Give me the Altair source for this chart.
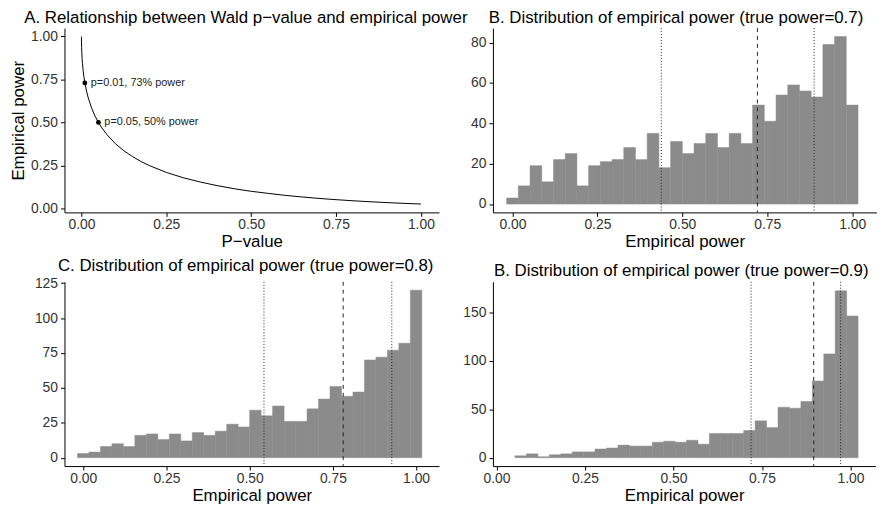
import altair as alt
import pandas as pd

FONT = "Liberation Sans"

# ---------------- Panel A: p-value vs empirical power ----------------
p_values = [0.0, 0.00001, 0.0001, 0.0005, 0.001, 0.002, 0.003, 0.005, 0.007, 0.01,
            0.015, 0.02, 0.03, 0.04, 0.05, 0.06, 0.075, 0.1, 0.125, 0.15,
            0.175, 0.2, 0.25, 0.3, 0.35, 0.4, 0.45, 0.5, 0.55, 0.6,
            0.65, 0.7, 0.75, 0.8, 0.85, 0.9, 0.95, 1.0]
emp_power = [1.0, 0.993, 0.973, 0.936, 0.908, 0.871, 0.843, 0.801, 0.769, 0.731,
             0.682, 0.643, 0.583, 0.537, 0.5, 0.468, 0.429, 0.376, 0.335, 0.302,
             0.273, 0.249, 0.209, 0.178, 0.153, 0.132, 0.114, 0.099, 0.087, 0.0755,
             0.066, 0.0576, 0.0504, 0.0439, 0.0383, 0.0333, 0.0289, 0.025]
ann_p = [0.01, 0.05]
ann_power = [0.73, 0.50]
ann_text = ["p=0.01, 73% power", "p=0.05, 50% power"]

# ---------------- Histograms (30 bins each) ----------------
b_counts = [3, 9, 19, 11, 22, 25, 9, 19, 21, 22, 28, 22, 35, 18, 31,
            25, 30, 35, 28, 35, 30, 49, 41, 54, 59, 56, 53, 79, 83, 49]
c_counts = [3, 4, 8, 10, 8, 16, 17, 13, 17, 12, 18, 16, 19, 24, 22,
            34, 30, 37, 26, 26, 35, 42, 51, 44, 47, 70, 72, 77, 82, 120]
d_counts = [2, 4, 1, 3, 4, 6, 6, 9, 10, 13, 12, 12, 16, 17, 16,
            18, 14, 25, 25, 25, 28, 38, 31, 52, 51, 58, 79, 107, 172, 146]
b_first_edge, b_bin_width = -0.0172, 0.03448
c_first_edge, c_bin_width = -0.0172, 0.03448
d_first_edge, d_bin_width = 0.0523, 0.0323

b_lines = [0.438, 0.721, 0.888]
c_lines = [0.543, 0.781, 0.927]
d_lines = [0.719, 0.896, 0.972]
line_kinds = ["dotted", "dashed", "dotted"]

x_ticks = [0.0, 0.25, 0.5, 0.75, 1.0]

titles = [
    "A. Relationship between Wald p\u2212value and empirical power",
    "B. Distribution of empirical power (true power=0.7)",
    "C. Distribution of empirical power (true power=0.8)",
    "B. Distribution of empirical power (true power=0.9)",
]

H = 186


def make_title(text, dx):
    return alt.TitleParams(text=text, anchor="start", frame="group", font=FONT,
                           fontSize=17, fontWeight="normal", color="black",
                           offset=-12, baseline="alphabetic", dx=dx)


# Panel A
df_a = pd.DataFrame({"p": p_values, "power": emp_power})
df_ann = pd.DataFrame({"p": ann_p, "power": ann_power, "label": ann_text})
xs_a = alt.Scale(domain=[-0.05, 1.0534], nice=False, zero=False)
ys_a = alt.Scale(domain=[-0.0238, 1.0488], nice=False, zero=False)

line_a = alt.Chart(df_a).mark_line(color="black", strokeWidth=1).encode(
    x=alt.X("p:Q", scale=xs_a,
            axis=alt.Axis(values=x_ticks, format=".2f", title="P\u2212value")),
    y=alt.Y("power:Q", scale=ys_a,
            axis=alt.Axis(values=[0, 0.25, 0.5, 0.75, 1.0], format=".2f",
                          title="Empirical power")),
)
pts_a = alt.Chart(df_ann).mark_circle(color="black", size=24, opacity=1).encode(
    x=alt.X("p:Q", scale=xs_a), y=alt.Y("power:Q", scale=ys_a))
txt_a = alt.Chart(df_ann).mark_text(align="left", baseline="middle", dx=6,
                                    font=FONT, fontSize=11, color="#222222").encode(
    x=alt.X("p:Q", scale=xs_a), y=alt.Y("power:Q", scale=ys_a), text="label:N")

panel_a = alt.layer(line_a, pts_a, txt_a).properties(
    width=378, height=H, title=make_title(titles[0], -40.6))


def hist_panel(counts, first, bw, lines, title, xdom, ydom, yticks, w, title_dx):
    df = pd.DataFrame({
        "lo": [first + i * bw for i in range(len(counts))],
        "hi": [first + (i + 1) * bw for i in range(len(counts))],
        "n": counts,
    })
    dl = pd.DataFrame({"pos": lines, "kind": line_kinds})
    xs = alt.Scale(domain=xdom, nice=False, zero=False)
    ys = alt.Scale(domain=ydom, nice=False, zero=False)
    bars = alt.Chart(df).mark_rect(color="#8b8b8b", stroke="#8b8b8b",
                                   strokeWidth=0.5).encode(
        x=alt.X("lo:Q", scale=xs,
                axis=alt.Axis(values=x_ticks, format=".2f", title="Empirical power")),
        x2="hi:Q",
        y=alt.Y("n:Q", scale=ys, axis=alt.Axis(values=yticks, format="d"), title=None),
        y2=alt.Y2(datum=0),
    )
    rules = alt.Chart(dl).mark_rule(color="#222222", strokeWidth=1).encode(
        x=alt.X("pos:Q", scale=xs),
        strokeDash=alt.StrokeDash("kind:N", legend=None,
                                  scale=alt.Scale(domain=["dotted", "dashed"],
                                                  range=[[1, 2], [4, 4]])),
    )
    return alt.layer(bars, rules).properties(
        width=w, height=H, title=make_title(title, title_dx))


panel_b = hist_panel(b_counts, b_first_edge, b_bin_width, b_lines, titles[1],
                     [-0.0575, 1.0713], [-4.15, 87.15], [0, 20, 40, 60, 80], 387, -4.3)
panel_c = hist_panel(c_counts, c_first_edge, c_bin_width, c_lines, titles[2],
                     [-0.0563, 1.0689], [-6, 126], [0, 25, 50, 75, 100, 125], 378, -6.6)
panel_d = hist_panel(d_counts, d_first_edge, d_bin_width, d_lines, titles[3],
                     [-0.0101, 1.0703], [-8.6, 181.3], [0, 50, 100, 150], 386, 1)

chart = alt.concat(panel_a, panel_b, panel_c, panel_d, columns=2,
                   spacing={"row": 70, "column": 54.4}, bounds="flush").properties(
    padding={"left": 1, "top": -2, "right": 0, "bottom": 0}
).configure(font=FONT).configure_view(strokeWidth=0).configure_axis(
    domainColor="black", domainWidth=1, tickColor="black", tickWidth=1, tickSize=4,
    labelFont=FONT, labelFontSize=14, labelColor="#333333",
    titleFont=FONT, titleFontSize=17, titleFontWeight="normal", titleColor="black",
    grid=False,
).configure_axisX(labelPadding=1.5, titlePadding=2).configure_axisY(
    labelPadding=3, titlePadding=3)

chart.save("out.html", embed_options={"renderer": "svg", "actions": False})
